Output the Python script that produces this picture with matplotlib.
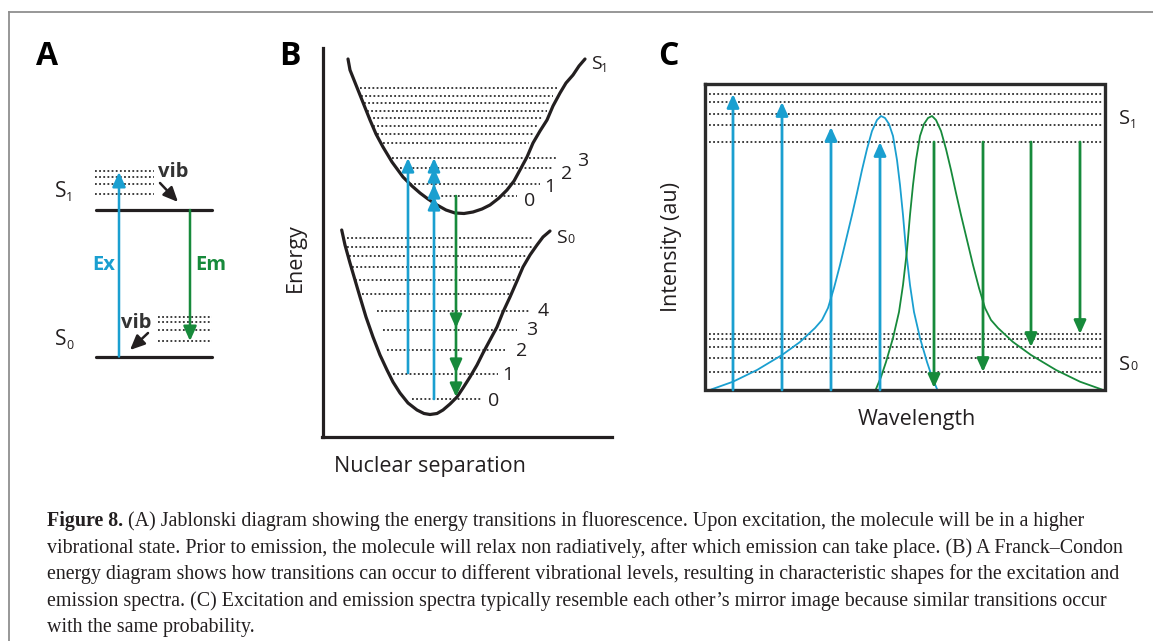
import matplotlib
matplotlib.use('Agg')
import matplotlib.pyplot as plt

BLUE = '#1a9fd0'
GREEN = '#178a3b'
INK = '#231f20'
DOT = '#2e2e2e'
FRAME = '#8f8f8f'
SANS = ['Open Sans', 'DejaVu Sans']
SERIF = ['Liberation Serif', 'DejaVu Serif']

# ---------------- data (pixel units) ----------------
# Panel A : Jablonski diagram
a_levels = [210, 356.5]                     # S1, S0 electronic levels
a_s1_vib = [170.5, 176.5, 183.5, 193.5]     # vibrational sub-levels of S1
a_s0_vib = [316.5, 321.5, 330, 341]         # vibrational sub-levels of S0
a_ex = (119, 356.5, 172)                    # x, from, to
a_em = (190, 210, 341)

# Panel B : Franck-Condon diagram
b_s1_x = [348, 350, 354, 358, 364, 370, 376, 383, 392, 403, 412, 420, 428, 437, 446,
          455, 464, 473, 482, 490, 499, 507, 514, 520, 527, 533, 540, 547, 553, 560,
          566, 573, 579, 585]
b_s1_y = [59, 70, 80, 90, 105, 120, 134, 147, 162, 177, 186, 193, 199, 205, 210,
          213, 213.5, 212, 209, 205, 198, 190, 181, 170, 157, 143, 131, 120, 106, 93,
          83, 75, 66, 59]
b_s0_x = [341.7, 345, 350, 355, 360, 366, 373, 380, 387, 393, 400, 408, 417, 424, 430,
          437, 443, 450, 457, 463, 470, 477, 483, 490, 497, 503, 510, 517, 523, 530,
          537, 543, 550]
b_s0_y = [230, 245, 263, 280, 297, 317, 337, 355, 370, 382, 393, 403, 410, 413.5, 414.5,
          413.5, 410, 404, 397, 388, 377, 365, 353, 340, 327, 312, 297, 281, 267, 255,
          245, 237, 231]
b_s1_lines_y = [88, 96, 103, 111, 118, 126, 134, 143, 158, 168, 184, 196]
b_s1_lines_x0 = [360, 361, 364, 367, 369, 373, 377, 383, 392, 400, 410, 433]
b_s1_lines_x1 = [557, 553, 550, 547, 542, 537, 533, 529, 558, 552, 540, 517]
b_s0_lines_y = [238, 247, 256, 267, 280, 294, 311, 330, 350, 374, 399]
b_s0_lines_x0 = [347, 347, 349, 352, 355, 362, 377, 383, 387, 393, 412]
b_s0_lines_x1 = [533, 532, 527, 522, 515, 510, 530, 517, 505, 498, 482]
b_s1_numbers = ['3', '2', '1', '0']
b_s1_num_x = [583, 567, 550, 530]
b_s1_num_y = [159, 172, 185, 199]
b_s0_numbers = ['4', '3', '2', '1', '0']
b_s0_num_x = [543, 532, 522, 508, 494]
b_s0_num_y = [309, 328, 349, 373, 399]
b_blue_x = [408, 434]
b_blue_from = [373, 399]
b_blue_heads = [[158], [158, 168, 184, 196]]
b_green_x = 456
b_green_from = 196
b_green_heads = [328, 373, 397]

# Panel C : spectra
c_box = (705, 1105, 84, 390)
c_s1_lines = [94, 102, 114, 125, 142]
c_s0_lines = [334, 339, 347, 358, 372]
c_blue_arrow_x = [733, 782, 831, 880]
c_blue_arrow_to = [94, 102, 127, 142]
c_green_arrow_x = [934, 983, 1031, 1080]
c_green_arrow_to = [388, 372, 347, 334]
c_exc_x = [711.7, 733, 757, 782, 800, 815, 822, 828, 834, 840, 846, 852, 857, 862,
           867, 872, 877, 881, 885, 889, 893, 897, 900, 903, 906, 910, 914, 920, 927,
           932, 937]
c_exc_y = [389.3, 381.7, 370, 355, 342, 328, 320, 308, 288, 265, 240, 215, 193, 170,
           149, 131, 120, 116, 118, 124, 136, 160, 185, 215, 250, 285, 312, 338, 362,
           377, 389]
c_em_x = [876, 881, 886, 893, 899, 903, 907, 910, 913, 916, 920, 924, 928, 932, 936,
          941, 946, 951, 956, 961, 967, 973, 979, 985, 991, 998, 1013, 1031, 1056,
          1080, 1101.3]
c_em_y = [389, 377, 362, 338, 312, 285, 250, 215, 185, 160, 136, 124, 118, 116, 120,
          131, 149, 170, 193, 215, 240, 265, 288, 308, 320, 328, 342, 355, 370, 381.7,
          389.3]

caption_bold = 'Figure 8.'
caption_lines = [
    ' (A) Jablonski diagram showing the energy transitions in fluorescence. Upon excitation, the molecule will be in a higher',
    'vibrational state. Prior to emission, the molecule will relax non radiatively, after which emission can take place. (B) A Franck\u2013Condon',
    'energy diagram shows how transitions can occur to different vibrational levels, resulting in characteristic shapes for the excitation and',
    'emission spectra. (C) Excitation and emission spectra typically resemble each other\u2019s mirror image because similar transitions occur',
    'with the same probability.',
]

# ---------------- drawing ----------------
fig = plt.figure(figsize=(11.53, 6.41), dpi=100)
ax = fig.add_axes([0, 0, 1, 1])
ax.set_xlim(0, 1153)
ax.set_ylim(641, 0)
ax.axis('off')

DOTS = (0, (1, 1.3))


def dotted(x0, x1, y, lw=1.3):
    ax.plot([x0, x1], [y, y], color=DOT, lw=lw, linestyle=DOTS, solid_capstyle='butt')


def arrow(x0, y0, x1, y1, color, lw=1.9, hl=0.8, hw=0.36, ms=10):
    ax.annotate('', xy=(x1, y1), xytext=(x0, y0),
                arrowprops=dict(arrowstyle=f'-|>,head_length={hl},head_width={hw}',
                                color=color, lw=lw, shrinkA=0, shrinkB=0,
                                mutation_scale=ms))


def state(x, y, sub, size=14.5, subsize=9, dx=10.5, dy=4):
    ax.text(x, y, 'S', fontsize=size, family=SANS, color=INK, ha='left', va='baseline')
    ax.text(x + dx, y + dy, sub, fontsize=subsize, family=SANS, color=INK,
            ha='left', va='baseline')


# frame
ax.plot([9, 9], [641, 12], color=FRAME, lw=1.3)
ax.plot([9, 1153], [12, 12], color=FRAME, lw=1.3)

# panel letters
for letter, x in zip(['A', 'B', 'C'], [47.5, 290, 668]):
    ax.text(x, 65, letter, fontsize=23, fontweight='bold', family=SANS, color='black',
            ha='center', va='baseline')

# ----- Panel A -----
for y in a_levels:
    ax.plot([96, 212], [y, y], color=INK, lw=2.3, solid_capstyle='round')
for y in a_s1_vib:
    dotted(95, 154, y)
for y in a_s0_vib:
    dotted(158, 212, y)
arrow(a_ex[0], a_ex[1], a_ex[0], a_ex[2], BLUE, lw=1.8, ms=11)
arrow(a_em[0], a_em[1], a_em[0], a_em[2], GREEN, lw=1.8, ms=11)
ax.text(158, 177, 'vib', fontsize=14.5, fontweight='bold', family=SANS, color='#333333',
        ha='left', va='baseline')
ax.text(121, 328, 'vib', fontsize=14.5, fontweight='bold', family=SANS, color='#333333',
        ha='left', va='baseline')
arrow(160, 183, 178, 202, INK, lw=1.8, ms=11)
arrow(148, 333, 130, 350, INK, lw=1.8, ms=11)
ax.text(92.5, 270, 'Ex', fontsize=14.5, fontweight='bold', family=SANS, color=BLUE,
        ha='left', va='baseline')
ax.text(195, 270, 'Em', fontsize=14.5, fontweight='bold', family=SANS, color=GREEN,
        ha='left', va='baseline')
state(55, 197, '1', size=15, subsize=9, dx=11, dy=4)
state(55, 345, '0', size=15, subsize=9, dx=11, dy=4)

# ----- Panel B -----
ax.plot([322.7, 322.7], [48, 437], color=INK, lw=2.3)
ax.plot([321.5, 612], [436.5, 436.5], color=INK, lw=2.3)
for y, x0, x1 in zip(b_s1_lines_y, b_s1_lines_x0, b_s1_lines_x1):
    dotted(x0, x1, y)
for y, x0, x1 in zip(b_s0_lines_y, b_s0_lines_x0, b_s0_lines_x1):
    dotted(x0, x1, y)
ax.plot(b_s1_x, b_s1_y, color=INK, lw=2.3, solid_capstyle='round')
ax.plot(b_s0_x, b_s0_y, color=INK, lw=2.3, solid_capstyle='round')
for x, y0, heads in zip(b_blue_x, b_blue_from, b_blue_heads):
    arrow(x, y0, x, min(heads), BLUE, lw=1.9)
    for h in heads:
        if h != min(heads):
            arrow(x, h + 8, x, h, BLUE, lw=1.9)
arrow(b_green_x, b_green_from, b_green_x, max(b_green_heads), GREEN, lw=1.9)
for h in b_green_heads:
    if h != max(b_green_heads):
        arrow(b_green_x, h - 8, b_green_x, h, GREEN, lw=1.9)
for t, x, y in zip(b_s1_numbers, b_s1_num_x, b_s1_num_y):
    ax.text(x, y, t, fontsize=14, family=SANS, color=INK, ha='center',
            va='center_baseline')
for t, x, y in zip(b_s0_numbers, b_s0_num_x, b_s0_num_y):
    ax.text(x, y, t, fontsize=14, family=SANS, color=INK, ha='center',
            va='center_baseline')
state(591, 69, '1', size=14, subsize=8.5, dx=10, dy=3)
state(556, 243, '0', size=14, subsize=9, dx=11, dy=0)
ax.text(295, 258, 'Energy', fontsize=15.5, family=SANS, color=INK, rotation=90,
        ha='center', va='center')
ax.text(430, 472, 'Nuclear separation', fontsize=15.5, family=SANS, color=INK,
        ha='center', va='baseline')

# ----- Panel C -----
bx0, bx1, by0, by1 = c_box
for y in c_s1_lines + c_s0_lines:
    dotted(bx0 + 4, bx1 - 3, y)
ax.plot(c_exc_x, c_exc_y, color=BLUE, lw=1.3)
ax.plot(c_em_x, c_em_y, color=GREEN, lw=1.3)
for x, t in zip(c_blue_arrow_x, c_blue_arrow_to):
    arrow(x, by1, x, t, BLUE, lw=2.0)
for x, t in zip(c_green_arrow_x, c_green_arrow_to):
    arrow(x, 142, x, t, GREEN, lw=2.0)
ax.plot([bx0, bx1, bx1, bx0, bx0], [by0, by0, by1, by1, by0], color='#2b2b2b', lw=2.4,
        solid_joinstyle='miter')
state(1119, 124, '1', size=14.5, subsize=8.5, dx=11, dy=4)
state(1119, 370, '0', size=14.5, subsize=9, dx=11, dy=0)
ax.text(671, 247, 'Intensity (au)', fontsize=15.5, family=SANS, color=INK, rotation=90,
        ha='center', va='center')
ax.text(917, 425, 'Wavelength', fontsize=15.5, family=SANS, color=INK,
        ha='center', va='baseline')

# ----- caption -----
cap_y = [526, 552.6, 579.2, 605.8, 632.4]
CAP = 14.4
tb = ax.text(47, cap_y[0], caption_bold, fontsize=CAP, fontweight='bold', family=SERIF,
             color=INK, ha='left', va='baseline')
ax.annotate(caption_lines[0], xy=(1, 0), xycoords=tb, xytext=(0, 0),
            textcoords='offset points', fontsize=CAP, family=SERIF, color=INK,
            ha='left', va='bottom')
for line, y in zip(caption_lines[1:], cap_y[1:]):
    ax.text(47, y, line, fontsize=CAP, family=SERIF, color=INK, ha='left', va='baseline')

fig.savefig('out.png', dpi=100)
